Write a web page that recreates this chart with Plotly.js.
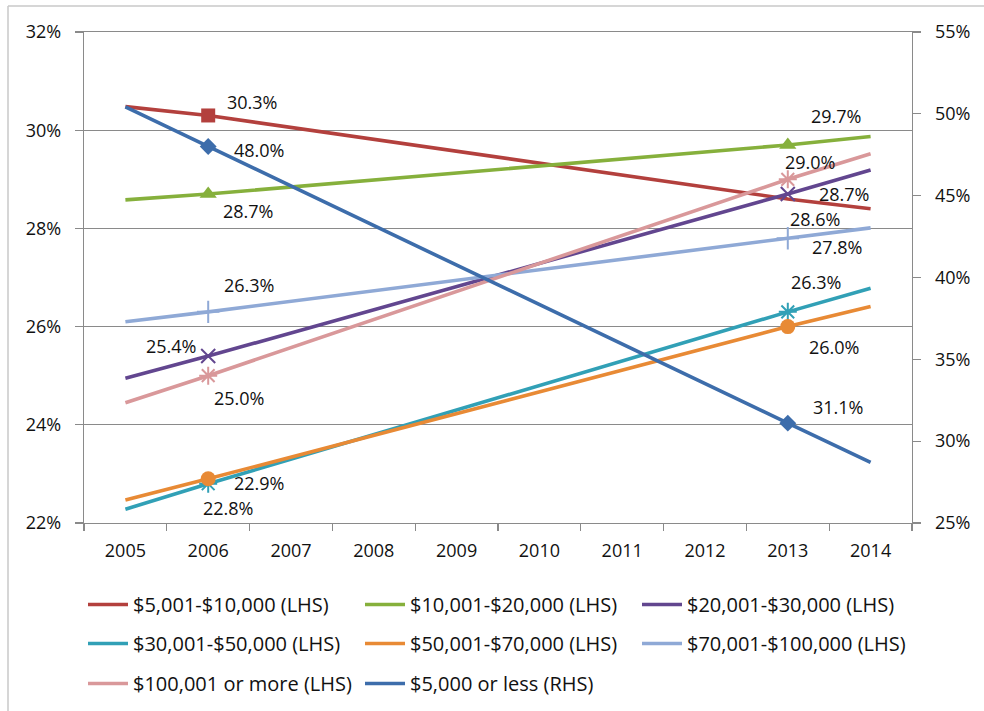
<!DOCTYPE html>
<html>
<head>
<meta charset="utf-8">
<script src="https://cdn.plot.ly/plotly-3.0.1.min.js"></script>
<style>html,body{margin:0;padding:0;background:#fff;}#chart{width:984px;height:711px;}</style>
</head>
<body>
<div id="chart"></div>
<script>
// ---- data ----
var years = ['2005','2006','2007','2008','2009','2010','2011','2012','2013','2014'];
var seriesNames = ['$5,001-$10,000 (LHS)','$10,001-$20,000 (LHS)','$20,001-$30,000 (LHS)',
  '$30,001-$50,000 (LHS)','$50,001-$70,000 (LHS)','$70,001-$100,000 (LHS)',
  '$100,001 or more (LHS)','$5,000 or less (RHS)'];
var inc5to10    = [30.48, 30.3, null, null, null, null, null, null, 28.6, 28.40];
var inc10to20   = [28.58, 28.7, null, null, null, null, null, null, 29.7, 29.87];
var inc20to30   = [24.95, 25.4, null, null, null, null, null, null, 28.7, 29.19];
var inc30to50   = [22.28, 22.8, null, null, null, null, null, null, 26.3, 26.78];
var inc50to70   = [22.47, 22.9, null, null, null, null, null, null, 26.0, 26.41];
var inc70to100  = [26.10, 26.3, null, null, null, null, null, null, 27.8, 28.01];
var inc100plus  = [24.45, 25.0, null, null, null, null, null, null, 29.0, 29.52];
var inc5under   = [50.42, 48.0, null, null, null, null, null, null, 31.1, 28.71];
var labelledYears = ['2006', '2013'];
var leftTicks = [22, 24, 26, 28, 30, 32];
var rightTicks = [25, 30, 35, 40, 45, 50, 55];

// ---- styles ----
var FONT = 'Open Sans, Noto Sans, sans-serif';
var GRAY = '#8a8a8a';
var styles = [
  {color:'#B3403D', symbol:'square', size:14, axis:'y',
   off:[[44,-13],[27,20]], showMarker:[true,false]},
  {color:'#86B03C', symbol:'triangle-up', size:15, axis:'y',
   off:[[40,17],[48,-29]], showMarker:[true,true]},
  {color:'#62468F', symbol:'x-thin-open', size:14, axis:'y',
   off:[[-37,-10],[56,0]], showMarker:[true,true]},
  {color:'#31A0B6', symbol:'asterisk-open', size:15, axis:'y',
   off:[[20,24],[28,-30]], showMarker:[true,true]},
  {color:'#E88A35', symbol:'circle', size:15, axis:'y',
   off:[[51,4],[46,20]], showMarker:[true,true]},
  {color:'#8FA9D6', symbol:'cross-thin-open', size:16, axis:'y',
   off:[[41,-27],[49,9]], showMarker:[true,true]},
  {color:'#D9989A', symbol:'asterisk-open', size:15, axis:'y',
   off:[[31,22],[22,-17]], showMarker:[true,true]},
  {color:'#3D6DAB', symbol:'diamond', size:13, axis:'y2',
   off:[[51,3],[50,-16]], showMarker:[true,true]}
];
// legend slot (column, row) for each series
var legendCols = [83, 360, 637];
var legendRowTops = [585, 624, 664];
var allSeries = [inc5to10, inc10to20, inc20to30, inc30to50, inc50to70, inc70to100, inc100plus, inc5under];

var lineTraces = [], markerTraces = [], annotations = [];
var layoutLegends = {};
allSeries.forEach(function(vals, i){
  var st = styles[i];
  var legKey = i === 0 ? 'legend' : 'legend' + (i + 1);
  lineTraces.push({
    type:'scatter', mode:'lines', x:years, y:vals, name:seriesNames[i],
    yaxis: st.axis, connectgaps:true, legend: legKey,
    line:{color:st.color, width:3.6}, hoverinfo:'x+y'
  });
  layoutLegends[legKey] = {
    orientation:'h', xref:'container', yref:'container', xanchor:'left', yanchor:'top',
    x: legendCols[i % 3] / 984, y: 1 - legendRowTops[Math.floor(i / 3)] / 711,
    itemwidth:40, font:{family:FONT, size:20, color:'#111'}, bgcolor:'rgba(0,0,0,0)'
  };
  var mx = [], my = [];
  labelledYears.forEach(function(yr, k){
    var idx = years.indexOf(yr);
    if (st.showMarker[k]) { mx.push(yr); my.push(vals[idx]); }
    annotations.push({
      x: idx, y: vals[idx], xref:'x', yref: st.axis,
      text: vals[idx].toFixed(1) + '%', showarrow:false,
      xshift: st.off[k][0], yshift: -st.off[k][1],
      font:{family:FONT, size:18, color:'#111'}
    });
  });
  var lw = (st.symbol.indexOf('open') >= 0) ? 2 : 0;
  markerTraces.push({
    type:'scatter', mode:'markers', x:mx, y:my, yaxis:st.axis, showlegend:false,
    hoverinfo:'skip',
    marker:{symbol:st.symbol, size:st.size, color:st.color, line:{color:st.color, width:lw}}
  });
});

var layout = {
  width:984, height:711,
  margin:{l:84, r:72, t:32, b:188},
  paper_bgcolor:'#fff', plot_bgcolor:'#fff',
  font:{family:FONT, size:18, color:'#111'},
  xaxis:{
    type:'category', categoryorder:'array', categoryarray:years,
    range:[-0.5, years.length - 0.5], autorange:false,
    tickson:'boundaries', ticks:'outside', ticklen:7, tickcolor:GRAY, tickwidth:1.3,
    showline:true, mirror:true, linecolor:GRAY, linewidth:1.3, showgrid:false, tickangle:0,
    ticklabelstandoff:11, tickfont:{family:FONT, size:18, color:'#111'}
  },
  yaxis:{
    range:[22,32], autorange:false, tickvals:leftTicks, ticktext:leftTicks.map(function(v){return v+'%';}),
    ticks:'outside', ticklen:8, tickcolor:GRAY, tickwidth:1.3,
    showline:true, linecolor:GRAY, linewidth:1.3,
    showgrid:true, gridcolor:GRAY, gridwidth:1.3, zeroline:false,
    ticklabelstandoff:10, tickfont:{family:FONT, size:18, color:'#111'}
  },
  yaxis2:{
    overlaying:'y', side:'right', range:[25,55], autorange:false, tickvals:rightTicks,
    ticktext:rightTicks.map(function(v){return v+'%';}),
    ticks:'outside', ticklen:8, tickcolor:GRAY, tickwidth:1.3,
    showline:true, linecolor:GRAY, linewidth:1.3, showgrid:false, zeroline:false,
    ticklabelstandoff:10, tickfont:{family:FONT, size:18, color:'#111'}
  },
  annotations: annotations,
  shapes:[
    {type:'line', xref:'paper', yref:'paper', x0:-76/828, x1:-76/828, y0:-190/491, y1:517/491,
     line:{color:'#c8c8c8', width:1.5}},
    {type:'line', xref:'paper', yref:'paper', x0:-76/828, x1:902/828, y0:517/491, y1:517/491,
     line:{color:'#c8c8c8', width:1.5}}
  ],
  showlegend:true
};
Object.keys(layoutLegends).forEach(function(k){ layout[k] = layoutLegends[k]; });

Plotly.newPlot('chart', lineTraces.concat(markerTraces), layout, {displayModeBar:false, staticPlot:true});
</script>
</body>
</html>
